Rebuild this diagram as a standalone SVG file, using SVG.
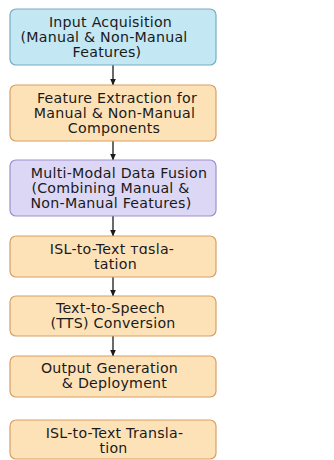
<svg xmlns="http://www.w3.org/2000/svg" width="334" height="460" viewBox="0 0 334 460">
  <style>
    .box { stroke-width: 1.2; }
    .blue { fill: #c3e7f3; stroke: #74aec4; }
    .orange { fill: #fde2b8; stroke: #d8a064; }
    .purple { fill: #ddd7f6; stroke: #9d8fcf; }
    text { font-family: "DejaVu Sans", "Liberation Sans", sans-serif; font-size: 14.2px; letter-spacing: 0.25px; fill: #1a1a1a; text-anchor: middle; }
    .conn line { stroke: #1a1a1a; stroke-width: 1.3; }
  </style>
  <defs>
    <marker id="arrow" markerWidth="7" markerHeight="6" refX="6.5" refY="3" orient="auto" markerUnits="userSpaceOnUse">
      <path d="M0,0 L7,3 L0,6 Z" fill="#1a1a1a"/>
    </marker>
  </defs>
  <rect width="334" height="460" fill="#ffffff"/>

  <g class="conn">
    <line x1="113" y1="65" x2="113" y2="85" marker-end="url(#arrow)"/>
    <line x1="113" y1="141" x2="113" y2="160" marker-end="url(#arrow)"/>
    <line x1="113" y1="216" x2="113" y2="236" marker-end="url(#arrow)"/>
    <line x1="113" y1="277" x2="113" y2="296" marker-end="url(#arrow)"/>
    <line x1="113" y1="336" x2="113" y2="356" marker-end="url(#arrow)"/>
  </g>

  <g id="input-acquisition">
    <rect class="box blue" x="10" y="9" width="206" height="56" rx="6"/>
    <text x="110.5" y="27">Input Acquisition</text>
    <text x="104" y="42">(Manual &amp; Non-Manual</text>
    <text x="107" y="57">Features)</text>
  </g>

  <g id="feature-extraction">
    <rect class="box orange" x="10" y="85" width="206" height="56" rx="6"/>
    <text x="117" y="103">Feature Extraction for</text>
    <text x="114.5" y="118">Manual &amp; Non-Manual</text>
    <text x="114" y="133">Components</text>
  </g>

  <g id="data-fusion">
    <rect class="box purple" x="10" y="160" width="206" height="56" rx="6"/>
    <text x="119" y="178">Multi-Modal Data Fusion</text>
    <text x="110.5" y="193">(Combining Manual &amp;</text>
    <text x="111" y="208">Non-Manual Features)</text>
  </g>

  <g id="isl-to-text-1">
    <rect class="box orange" x="10" y="236" width="206" height="41" rx="6"/>
    <text x="112" y="253.5">ISL-to-Text тɑsla-</text>
    <text x="115.5" y="269">tation</text>
  </g>

  <g id="text-to-speech">
    <rect class="box orange" x="10" y="296" width="206" height="40" rx="6"/>
    <text x="110.5" y="313">Text-to-Speech</text>
    <text x="113" y="328">(TTS) Conversion</text>
  </g>

  <g id="output-generation">
    <rect class="box orange" x="10" y="356" width="206" height="41" rx="6"/>
    <text x="109.5" y="373">Output Generation</text>
    <text x="114.5" y="388">&amp; Deployment</text>
  </g>

  <g id="isl-to-text-2">
    <rect class="box orange" x="10" y="420" width="206" height="39" rx="6"/>
    <text x="114.5" y="438">ISL-to-Text Transla-</text>
    <text x="113.5" y="453">tion</text>
  </g>
</svg>
